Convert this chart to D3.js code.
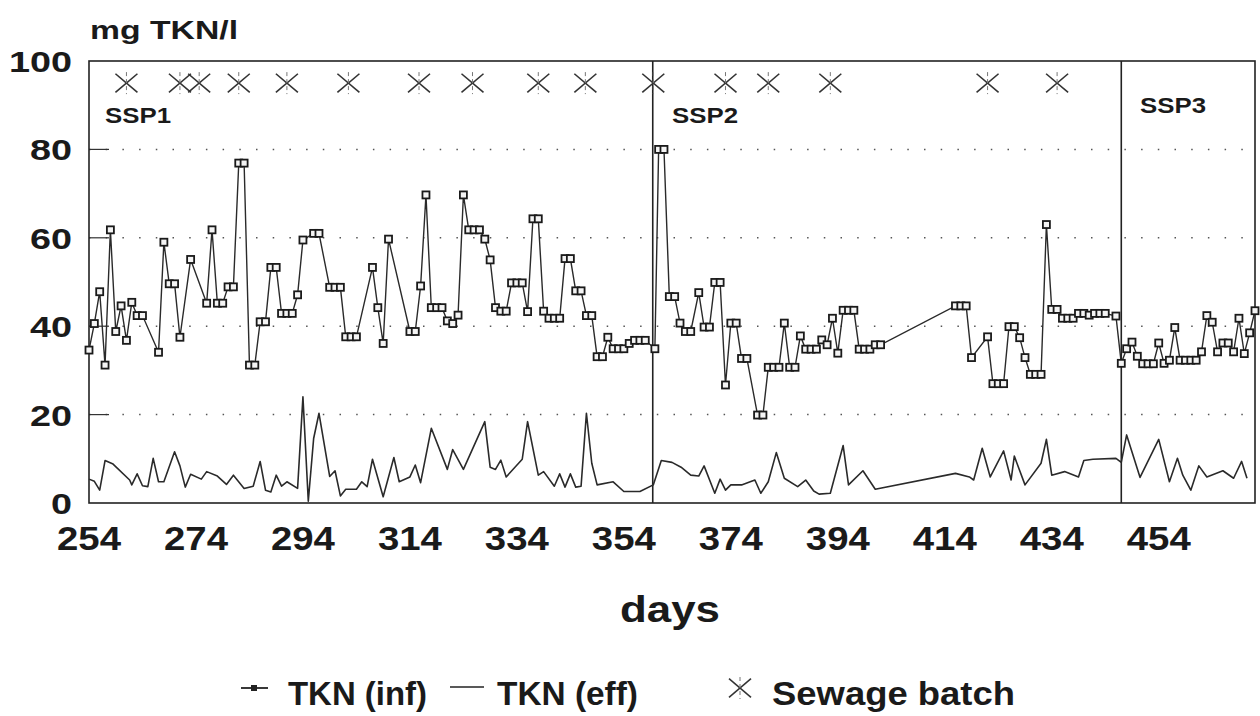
<!DOCTYPE html>
<html>
<head>
<meta charset="utf-8">
<script src="https://cdn.jsdelivr.net/npm/d3@7"></script>
<style>
  body { margin: 0; background: #fff; }
  svg { display: block; }
  text { font-family: "Liberation Sans", Arial, sans-serif; font-weight: bold; fill: #1a1a1a; }
</style>
</head>
<body>
<svg id="chart" width="1260" height="716"></svg>
<script>
// TKN influent / effluent over the three sewage periods

const infDays = [254,255,256,257,258,259,260,261,262,263,264,267,268,269,270,271,273,276,277,278,279,280,281,282,283,284,285,286,287,288,289,290,291,292,293,294,296,297,299,300,301,302,303,304,307,308,309,310,314,315,316,317,318,319,320,321,322,323,324,325,326,327,328,329,330,331,332,333,334,335,336,337,338,339,340,341,342,343,344,345,346,347,348,349,350,351,352,353,354,355,356,357,358,359.8,
  360.5,361.5,362.5,363.5,364.5,365.5,366.5,368,369,370,371,372,373,374,375,376,377,379,380,381,382,383,384,385,386,387,388,389,390,391,392,393,394,395,396,397,398,399,400,401,402,416,417,418,419,422,423,424,425,426,427,428,429,430,431,432,433,434,435,436,437,438,439,440,441,442,443,444,446,
  447,448,449,450,451,452,453,454,455,456,457,458,459,460,461,462,463,464,465,466,467,468,469,470,471,472];
const infValues = [34.6,40.6,47.8,31.2,61.8,38.8,44.6,36.8,45.4,42.4,42.4,34.1,59,49.6,49.6,37.5,55.1,45.2,61.8,45.2,45.2,48.9,48.9,76.9,76.9,31.2,31.2,41,41,53.3,53.3,42.9,42.9,42.9,47.1,59.5,61,61,48.8,48.8,48.8,37.6,37.6,37.6,53.3,44.2,36.1,59.7,38.8,38.8,49.1,69.7,44.2,44.2,44.2,41.2,40.6,42.5,69.7,61.8,61.8,61.8,59.7,55,44.2,43.4,43.4,49.8,49.8,49.8,43.3,64.3,64.3,43.4,41.8,41.8,41.8,55.3,55.3,48,48,42.4,42.4,33.1,33.1,37.5,34.9,34.9,34.9,36.1,36.8,36.8,36.8,34.9,
  80,80,46.7,46.7,40.7,38.8,38.8,47.6,39.8,39.8,49.9,49.9,26.7,40.7,40.7,32.7,32.7,19.9,19.9,30.7,30.7,30.7,40.7,30.7,30.7,37.8,34.8,34.8,34.8,36.9,35.8,41.8,33.9,43.6,43.6,43.6,34.8,34.8,34.8,35.8,35.8,44.6,44.6,44.6,32.9,37.6,27,27,27,39.9,39.9,37.4,32.9,29.1,29.1,29.1,63,43.8,43.8,41.8,41.8,41.8,42.9,42.9,42.5,42.9,42.9,42.9,42.3,
  31.6,34.9,36.4,33.2,31.5,31.5,31.5,36.2,31.6,32.3,39.7,32.3,32.3,32.3,32.3,34.2,42.4,40.9,34.2,36.2,36.2,34.2,41.8,33.8,38.5,43.5];

const effDays = [254,255,256,257,258.5,261.6,262,263,264,265,266,267,268,270,271,272,273,275,276,278,279.7,281,283,284.7,286,287,288,289,290,291,293,294,295,296,297,299,300,301,302,304,305,306,307,309,311,312,314,315,316,318,321,322,324,328,329,330,331,332,335,336,338,339,341,342,343,344,345,346,347,348,349,352,354,357,359.5,
  361,363,364.7,366.5,368,369,371,372,373,374,376,378.5,379.6,381,382.5,384,386.5,388,389.5,390.5,392.6,395,396,398.7,401,416,418.6,419.4,421,422.5,425,426.4,427,429,432,433,434,436.4,439,440,441.7,446,447,448,450.5,454,456,457.5,458.5,460,461.5,463,466,468,469.5,470.5];
const effValues = [5.4,4.9,2.9,9.6,8.8,5.2,4.1,6.6,3.9,3.7,10.1,4.8,4.8,11.6,8.4,3.6,6.5,5.4,7.1,6.1,4.2,6.3,3.3,3.8,9.4,2.9,2.5,6.3,3.8,4.8,3.3,24,0.4,14.6,20.3,6,7.3,1.6,3.1,3.1,4.8,3.7,9.9,1.4,10.3,4.8,5.9,8.6,4.6,16.9,7.6,12.1,7.6,18.4,8.1,7.6,9.7,5.9,9.9,18.4,6.3,7.1,3.8,6.6,3.6,6.6,3.6,3.8,20.3,9,4.1,4.8,2.6,2.6,4.1,
  9.6,9.2,8.1,6.3,6.1,8.4,2.2,5.4,2.9,4.1,4.1,5.2,2.2,4.8,11.4,5.6,3.7,5.2,2.7,2,2.2,13,4.1,7.3,3.1,6.7,5.9,5.2,12.4,5.9,11.8,5.2,10.6,4.1,9,14.4,6.3,7.1,5.9,9.6,9.9,10.1,9.2,15.4,5.8,14.4,4.8,10.1,6.3,2.9,8.4,5.9,7.3,5.6,9.4,5.6];

const batchDays = [261,271,274.6,282,291,302.5,315.7,325.7,338,346.8,359.5,373,381,392.6,422,435];
const batchLevel = 95;

const phaseStarts = [359.4, 447];
const phaseLabels = ["SSP1", "SSP2", "SSP3"];

const xTicks = [254,274,294,314,334,354,374,394,414,434,454];
const yTicks = [0,20,40,60,80,100];

const svg = d3.select("#chart");

const plotL = 89, plotR = 1255, plotT = 61, plotB = 503;

const x = d3.scaleLinear().domain([254, 472]).range([plotL, plotR]);
const y = d3.scaleLinear().domain([0, 100]).range([plotB, plotT]);

// dotted gridlines
svg.append("g")
  .selectAll("line")
  .data(yTicks.filter(d => d > 0 && d < 100))
  .join("line")
    .attr("x1", plotL).attr("x2", plotR)
    .attr("y1", d => y(d)).attr("y2", d => y(d))
    .attr("stroke", "#555")
    .attr("stroke-width", 1.5)
    .attr("stroke-dasharray", "1.5,15.2");

// short inner ticks on the left edge
svg.append("g")
  .selectAll("line")
  .data(yTicks.filter(d => d > 0 && d < 100))
  .join("line")
    .attr("x1", plotL).attr("x2", plotL + 20)
    .attr("y1", d => y(d)).attr("y2", d => y(d))
    .attr("stroke", "#333")
    .attr("stroke-width", 1.2);

// frame
svg.append("rect")
  .attr("x", plotL).attr("y", plotT)
  .attr("width", plotR - plotL).attr("height", plotB - plotT)
  .attr("fill", "none")
  .attr("stroke", "#222")
  .attr("stroke-width", 1.6);

// phase separators
svg.append("g")
  .selectAll("line")
  .data(phaseStarts)
  .join("line")
    .attr("x1", d => x(d)).attr("x2", d => x(d))
    .attr("y1", plotT).attr("y2", plotB)
    .attr("stroke", "#222")
    .attr("stroke-width", 1.6);

// y tick labels
svg.append("g")
  .selectAll("text")
  .data(yTicks)
  .join("text")
    .attr("x", 72)
    .attr("y", d => y(d) + 11)
    .attr("text-anchor", "end")
    .attr("font-size", 29)
    .attr("textLength", d => String(d).length * 21)
    .attr("lengthAdjust", "spacingAndGlyphs")
    .text(d => d);

// x tick labels
svg.append("g")
  .selectAll("text")
  .data(xTicks)
  .join("text")
    .attr("x", d => x(d))
    .attr("y", 550)
    .attr("text-anchor", "middle")
    .attr("font-size", 33)
    .attr("textLength", 64)
    .attr("lengthAdjust", "spacingAndGlyphs")
    .text(d => d);

svg.append("text")
  .attr("x", 90).attr("y", 39)
  .attr("font-size", 25)
  .attr("textLength", 148)
  .attr("lengthAdjust", "spacingAndGlyphs")
  .text("mg TKN/l");

svg.append("text")
  .attr("x", 670).attr("y", 622)
  .attr("text-anchor", "middle")
  .attr("font-size", 37)
  .attr("textLength", 100)
  .attr("lengthAdjust", "spacingAndGlyphs")
  .text("days");

// phase labels
const phaseLabelPos = [[105, 123], [672, 123], [1140, 113]];
svg.append("g")
  .selectAll("text")
  .data(phaseLabels)
  .join("text")
    .attr("x", (d, i) => phaseLabelPos[i][0])
    .attr("y", (d, i) => phaseLabelPos[i][1])
    .attr("font-size", 22)
    .attr("textLength", 66)
    .attr("lengthAdjust", "spacingAndGlyphs")
    .text(d => d);

// effluent line
const line = d3.line().x(d => x(d[0])).y(d => y(d[1]));

svg.append("path")
  .datum(d3.zip(effDays, effValues))
  .attr("d", line)
  .attr("fill", "none")
  .attr("stroke", "#2a2a2a")
  .attr("stroke-width", 1.6)
  .attr("stroke-linejoin", "round");

// influent line + square markers
const infData = d3.zip(infDays, infValues);
svg.append("path")
  .datum(infData)
  .attr("d", line)
  .attr("fill", "none")
  .attr("stroke", "#2a2a2a")
  .attr("stroke-width", 1.4);

svg.append("g")
  .selectAll("rect")
  .data(infData)
  .join("rect")
    .attr("x", d => x(d[0]) - 3.5)
    .attr("y", d => y(d[1]) - 3.5)
    .attr("width", 7).attr("height", 7)
    .attr("fill", "#f4f4f4")
    .attr("stroke", "#1a1a1a")
    .attr("stroke-width", 1.8);

// sewage batch asterisks
function star(g, s) {
  g.append("line").attr("x1", -s).attr("y1", -s * 0.85).attr("x2", s).attr("y2", s * 0.85);
  g.append("line").attr("x1", -s).attr("y1", s * 0.85).attr("x2", s).attr("y2", -s * 0.85);
  g.append("line").attr("x1", 0).attr("y1", -s).attr("x2", 0).attr("y2", s)
    .attr("stroke-width", 1).attr("stroke-dasharray", "4,3").attr("stroke", "#777");
}

svg.append("g")
  .selectAll("g")
  .data(batchDays)
  .join("g")
    .attr("transform", d => `translate(${x(d)},${y(batchLevel)})`)
    .attr("stroke", "#333")
    .attr("stroke-width", 1.6)
    .each(function() { star(d3.select(this), 11); });

// legend
const lg = svg.append("g");
lg.append("line").attr("x1", 241).attr("x2", 268).attr("y1", 688).attr("y2", 688)
  .attr("stroke", "#222").attr("stroke-width", 1.8);
lg.append("rect").attr("x", 251).attr("y", 685).attr("width", 6).attr("height", 6)
  .attr("fill", "#222");
lg.append("text").attr("x", 288).attr("y", 705).attr("font-size", 34)
  .attr("textLength", 139).attr("lengthAdjust", "spacingAndGlyphs").text("TKN (inf)");

lg.append("line").attr("x1", 450).attr("x2", 484).attr("y1", 687).attr("y2", 687)
  .attr("stroke", "#222").attr("stroke-width", 1.6);
lg.append("text").attr("x", 497).attr("y", 705).attr("font-size", 34)
  .attr("textLength", 141).attr("lengthAdjust", "spacingAndGlyphs").text("TKN (eff)");

const ls = lg.append("g").attr("transform", "translate(740,688)")
  .attr("stroke", "#333").attr("stroke-width", 1.5);
star(ls, 11);
lg.append("text").attr("x", 772).attr("y", 705).attr("font-size", 34)
  .attr("textLength", 243).attr("lengthAdjust", "spacingAndGlyphs").text("Sewage batch");
</script>
</body>
</html>
